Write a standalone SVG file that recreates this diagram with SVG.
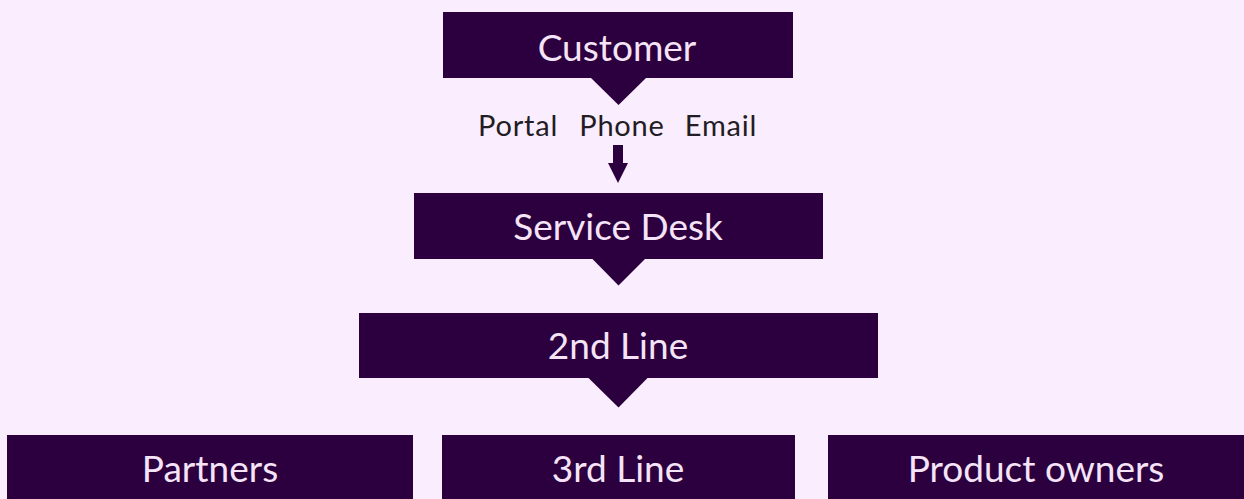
<svg xmlns="http://www.w3.org/2000/svg" width="1244" height="499" viewBox="0 0 1244 499">
<style>
.bg{fill:#FAEDFD}
.box{fill:#2C003E}
.lbl{font-family:Lato,"Liberation Sans",sans-serif;font-size:37px;font-weight:400;fill:#F5E4F8;text-anchor:middle}
.ch{font-family:Lato,"Liberation Sans",sans-serif;font-size:29px;font-weight:400;letter-spacing:0.8px;fill:#221C24;text-anchor:middle}
</style>
<rect class="bg" x="0" y="0" width="1244" height="499"/>
<g id="customer">
<rect class="box" x="443" y="12" width="350" height="66"/>
<polygon class="box" points="590,77 647,77 618.5,105"/>
<text class="lbl" x="617" y="61">Customer</text>
</g>
<g id="channels">
<text class="ch" x="518" y="136">Portal</text>
<text class="ch" x="622" y="136">Phone</text>
<text class="ch" x="721" y="136">Email</text>
</g>
<g id="connectors">
<polygon class="box" points="613,145 623,145 623,163 628,163 618,183 608,163 613,163"/>
</g>
<g id="service-desk">
<rect class="box" x="414" y="193" width="409" height="66"/>
<polygon class="box" points="591.5,258 646,258 618.5,285.5"/>
<text class="lbl" x="618" y="240">Service Desk</text>
</g>
<g id="second-line">
<rect class="box" x="359" y="313" width="519" height="65"/>
<polygon class="box" points="587.5,377 648.5,377 618.5,407.5"/>
<text class="lbl" x="618" y="359">2nd Line</text>
</g>
<g id="partners">
<rect class="box" x="7" y="435" width="406" height="64"/>
<text class="lbl" x="210" y="482">Partners</text>
</g>
<g id="third-line">
<rect class="box" x="442" y="435" width="353" height="64"/>
<text class="lbl" x="618" y="482">3rd Line</text>
</g>
<g id="product-owners">
<rect class="box" x="828" y="435" width="416" height="64"/>
<text class="lbl" x="1036" y="482">Product owners</text>
</g>
</svg>
